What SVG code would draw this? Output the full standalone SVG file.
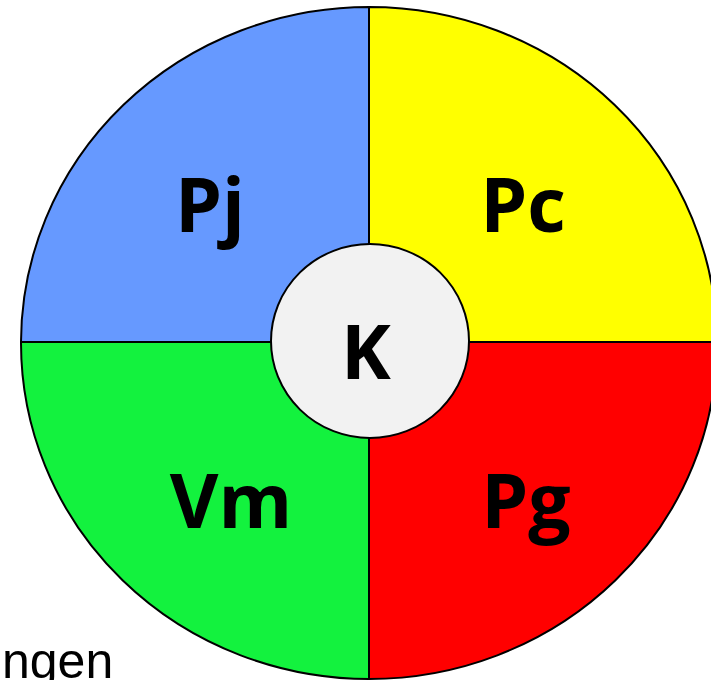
<svg xmlns="http://www.w3.org/2000/svg" width="711" height="680" viewBox="0 0 711 680">
<style>
.q{stroke:#000;stroke-width:2;stroke-linejoin:round}
.lbl{font-family:"Open Sans",Lato,"Liberation Sans",sans-serif;font-weight:700;font-size:75px;fill:#000;text-anchor:middle}
.note{font-family:"Liberation Sans",Arial,sans-serif;font-size:50px;fill:#000}
</style>
<rect width="711" height="680" fill="#fff"/>
<g id="Pj"><path class="q" d="M369,342 L369,7 A348,336 0 0 0 21,342 Z" fill="#6699FF"/><text class="lbl" x="210" y="232">Pj</text></g>
<g id="Pc"><path class="q" d="M369,342 L369,7 A348,336 0 0 1 717,342 Z" fill="#FFFF00"/><text class="lbl" x="523" y="232">Pc</text></g>
<g id="Pg"><path class="q" d="M369,342 L717,342 A348,336 0 0 1 369,679 Z" fill="#FF0000"/><text class="lbl" x="526" y="528">Pg</text></g>
<g id="Vm"><path class="q" d="M369,342 L369,679 A348,336 0 0 1 21,342 Z" fill="#13F23E"/><text class="lbl" x="231" y="528">Vm</text></g>
<g id="K"><ellipse class="q" cx="370" cy="341" rx="99" ry="97" fill="#F2F2F2"/><text class="lbl" x="366" y="379">K</text></g>
<text class="note" x="2" y="678">ngen</text>
</svg>
